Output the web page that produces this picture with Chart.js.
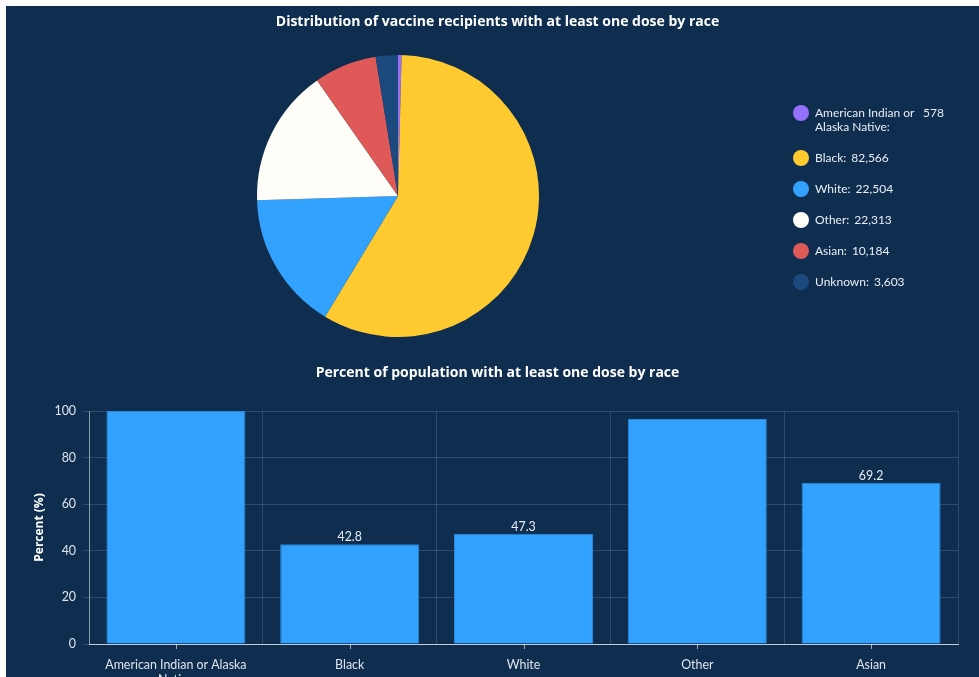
<!DOCTYPE html>
<html>
<head>
<meta charset="utf-8">
<script src="https://cdn.jsdelivr.net/npm/chart.js@4.4.1/dist/chart.umd.min.js"></script>
<style>
    html, body { margin: 0; padding: 0; background: #fff; overflow: hidden; }
    body { width: 979px; height: 677px; position: relative; font-family: Lato, "Noto Sans", sans-serif; }
    #panel { position: absolute; left: 6px; top: 6px; width: 983px; height: 700px; background: #0f2e4f; }
    #pie-wrap { position: absolute; left: 0; top: 0; width: 973px; height: 350px; }
    #bar-wrap { position: absolute; left: 0; top: 350px; width: 973px; height: 340px; }
    .chart-title { position: absolute; left: 0; width: 983px; text-align: center; color: #fff;
                   font: bold 14px "Open Sans", sans-serif; line-height: 18px; }
    #pie-title { top: 6px; }
    #bar-title { top: 357px; }
    #legend { position: absolute; left: 787px; top: 100px; color: #e8eef5; font-size: 12px; line-height: 13.5px; }
    .item { display: flex; align-items: flex-start; margin-bottom: 17.5px; }
    .dot { width: 16px; height: 16px; border-radius: 50%; margin: -1px 6px -1.5px 0; flex: none; }
    .lbl { max-width: 103px; }
    .val { margin-left: 5px; white-space: nowrap; }
</style>
</head>
<body>
<div id="panel">
    <div id="pie-wrap"><canvas id="pie-chart"></canvas></div>
    <div id="legend"></div>
    <div id="bar-wrap"><canvas id="bar-chart"></canvas></div>
    <div class="chart-title" id="pie-title">Distribution of vaccine recipients with at least one dose by race</div>
    <div class="chart-title" id="bar-title">Percent of population with at least one dose by race</div>
</div>
<script>
const pieLabels = ['American Indian or Alaska Native', 'Black', 'White', 'Other', 'Asian', 'Unknown'];
const pieValues = [578, 82566, 22504, 22313, 10184, 3603];
const pieColors = ['#9470fb', '#ffc930', '#33a2fe', '#fffdf8', '#e05959', '#1c4a7e'];

const barCategories = ['American Indian or Alaska Native', 'Black', 'White', 'Other', 'Asian'];
const barValues = [100, 42.8, 47.3, 96.6, 69.2];

const textColor = '#dfe5ec';
const gridColor = 'rgba(255, 255, 255, 0.14)';

Chart.defaults.font.family = 'Lato, "Noto Sans", sans-serif';
Chart.defaults.font.size = 12.4;
Chart.defaults.color = textColor;
Chart.defaults.animation = false;

// wrap long axis labels into lines of at most maxLen chars
function wrapLabel(text, maxLen) {
    const words = text.split(' ');
    const lines = [];
    let line = '';
    words.forEach(w => {
        if (line && (line + ' ' + w).length > maxLen) {
            lines.push(line);
            line = w;
        } else {
            line = line ? line + ' ' + w : w;
        }
    });
    if (line) lines.push(line);
    return lines;
}

// html legend for the pie
const legend = document.getElementById('legend');
pieLabels.forEach((name, i) => {
    const item = document.createElement('div');
    item.className = 'item';
    item.innerHTML = `
        <span class="dot" style="background:${pieColors[i]}"></span>
        <span class="lbl">${name}:</span>
        <span class="val">${pieValues[i].toLocaleString('en-US')}</span>
    `;
    legend.appendChild(item);
});

new Chart(document.getElementById('pie-chart'), {
    type: 'pie',
    data: {
        labels: pieLabels,
        datasets: [{
            data: pieValues,
            backgroundColor: pieColors,
            borderWidth: 0
        }]
    },
    options: {
        responsive: true,
        maintainAspectRatio: false,
        layout: { padding: { top: 49, left: 0, right: 189, bottom: 19 } },
        plugins: {
            legend: { display: false },
            tooltip: { enabled: false }
        }
    }
});

// value labels above bars, only when they fit inside the plot
const barValueLabels = {
    id: 'barValueLabels',
    afterDatasetsDraw(chart) {
        const ctx = chart.ctx;
        const area = chart.chartArea;
        const meta = chart.getDatasetMeta(0);
        ctx.save();
        ctx.font = '12.4px Lato, "Noto Sans", sans-serif';
        ctx.fillStyle = '#e8eef5';
        ctx.textAlign = 'center';
        ctx.textBaseline = 'middle';
        meta.data.forEach((bar, i) => {
            const y = bar.y - 7;
            if (y - 6 >= area.top) {
                ctx.fillText(barValues[i].toFixed(1), bar.x, y);
            }
        });
        ctx.restore();
    }
};

// short tick marks under the category centres
const centreTicks = {
    id: 'centreTicks',
    afterDraw(chart) {
        const ctx = chart.ctx;
        const x = chart.scales.x;
        ctx.save();
        ctx.strokeStyle = 'rgba(255, 255, 255, 0.6)';
        ctx.lineWidth = 1;
        barCategories.forEach((_, i) => {
            const px = Math.round(x.getPixelForValue(i)) + 0.5;
            ctx.beginPath();
            ctx.moveTo(px, x.top);
            ctx.lineTo(px, x.top + 5);
            ctx.stroke();
        });
        ctx.restore();
    }
};

new Chart(document.getElementById('bar-chart'), {
    type: 'bar',
    data: {
        labels: barCategories,
        datasets: [{
            data: barValues,
            backgroundColor: '#33a2fe',
            borderColor: '#2b86d6',
            borderWidth: 1,
            barPercentage: 1,
            categoryPercentage: 0.8
        }]
    },
    options: {
        responsive: true,
        maintainAspectRatio: false,
        layout: { padding: { top: 55, right: 21 } },
        plugins: {
            legend: { display: false },
            tooltip: { enabled: false }
        },
        scales: {
            x: {
                afterFit(scale) { scale.height = 52; },
                grid: { color: gridColor, drawTicks: false, offset: true },
                border: { color: 'rgba(220, 228, 236, 0.85)', width: 1 },
                ticks: {
                    padding: 13.8,
                    color: textColor,
                    maxRotation: 0,
                    autoSkip: false,
                    callback(value) { return wrapLabel(barCategories[value], 26); }
                }
            },
            y: {
                min: 0,
                max: 100,
                afterFit(scale) { scale.width = 83; },
                grid: { color: gridColor, tickLength: 6 },
                border: { color: 'rgba(200, 210, 222, 0.6)', width: 1 },
                ticks: { stepSize: 20, padding: 7, color: textColor },
                title: {
                    display: true,
                    text: 'Percent (%)',
                    color: '#ffffff',
                    font: { family: '"Open Sans", sans-serif', size: 12, weight: 'bold' },
                    padding: { top: 26, bottom: 0 }
                }
            }
        }
    },
    plugins: [barValueLabels, centreTicks]
});
</script>
</body>
</html>
